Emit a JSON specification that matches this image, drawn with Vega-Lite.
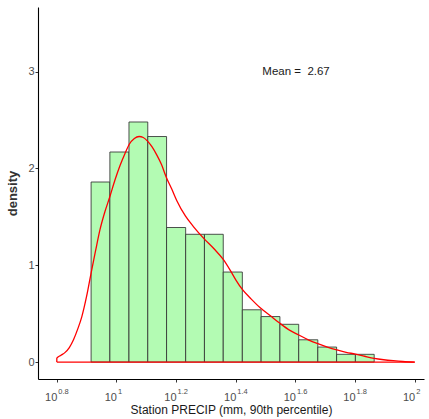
{
  "$schema": "https://vega.github.io/schema/vega-lite/v6.json",
  "width": 386,
  "height": 372,
  "autosize": "none",
  "padding": {"left": 38, "top": 7, "right": 5, "bottom": 40},
  "background": "white",
  "config": {
    "view": {"stroke": null},
    "font": "Liberation Sans",
    "axis": {
      "grid": false,
      "domainColor": "#000000",
      "domainWidth": 1.1,
      "tickColor": "#333333",
      "tickSize": 3,
      "labelColor": "#4d4d4d",
      "labelFontSize": 11,
      "labelFont": "Liberation Sans",
      "titleColor": "#1a1a1a",
      "titleFont": "Liberation Sans"
    }
  },
  "datasets": {
    "bins": [
      {"bin_start": 0.915, "bin_end": 0.978, "density": 1.86},
      {"bin_start": 0.978, "bin_end": 1.042, "density": 2.17},
      {"bin_start": 1.042, "bin_end": 1.105, "density": 2.48},
      {"bin_start": 1.105, "bin_end": 1.168, "density": 2.33},
      {"bin_start": 1.168, "bin_end": 1.232, "density": 1.39},
      {"bin_start": 1.232, "bin_end": 1.295, "density": 1.32},
      {"bin_start": 1.295, "bin_end": 1.358, "density": 1.32},
      {"bin_start": 1.358, "bin_end": 1.422, "density": 0.93},
      {"bin_start": 1.422, "bin_end": 1.485, "density": 0.54},
      {"bin_start": 1.485, "bin_end": 1.548, "density": 0.47},
      {"bin_start": 1.548, "bin_end": 1.611, "density": 0.39},
      {"bin_start": 1.611, "bin_end": 1.675, "density": 0.23},
      {"bin_start": 1.675, "bin_end": 1.738, "density": 0.155},
      {"bin_start": 1.738, "bin_end": 1.801, "density": 0.08},
      {"bin_start": 1.801, "bin_end": 1.864, "density": 0.08}
    ],
    "curve": [
      {"log10_precip": 0.8, "density": 0.0},
      {"log10_precip": 0.8001, "density": 0.04},
      {"log10_precip": 0.814, "density": 0.07},
      {"log10_precip": 0.828, "density": 0.1},
      {"log10_precip": 0.842, "density": 0.15},
      {"log10_precip": 0.856, "density": 0.23},
      {"log10_precip": 0.87, "density": 0.34},
      {"log10_precip": 0.884, "density": 0.47},
      {"log10_precip": 0.9, "density": 0.68},
      {"log10_precip": 0.915, "density": 0.92},
      {"log10_precip": 0.93, "density": 1.15},
      {"log10_precip": 0.945, "density": 1.37},
      {"log10_precip": 0.961, "density": 1.55},
      {"log10_precip": 0.978, "density": 1.71},
      {"log10_precip": 0.995, "density": 1.88},
      {"log10_precip": 1.012, "density": 2.03},
      {"log10_precip": 1.028, "density": 2.15},
      {"log10_precip": 1.043, "density": 2.25},
      {"log10_precip": 1.06, "density": 2.31},
      {"log10_precip": 1.076, "density": 2.33},
      {"log10_precip": 1.09, "density": 2.32},
      {"log10_precip": 1.105, "density": 2.28},
      {"log10_precip": 1.12, "density": 2.22},
      {"log10_precip": 1.135, "density": 2.14},
      {"log10_precip": 1.151, "density": 2.04},
      {"log10_precip": 1.167, "density": 1.91},
      {"log10_precip": 1.185, "density": 1.79},
      {"log10_precip": 1.202, "density": 1.67},
      {"log10_precip": 1.231, "density": 1.51},
      {"log10_precip": 1.258, "density": 1.4},
      {"log10_precip": 1.295, "density": 1.27},
      {"log10_precip": 1.327, "density": 1.17},
      {"log10_precip": 1.358, "density": 1.06},
      {"log10_precip": 1.381, "density": 0.95},
      {"log10_precip": 1.4, "density": 0.85},
      {"log10_precip": 1.422, "density": 0.75},
      {"log10_precip": 1.452, "density": 0.65},
      {"log10_precip": 1.482, "density": 0.56},
      {"log10_precip": 1.515, "density": 0.48},
      {"log10_precip": 1.548, "density": 0.4},
      {"log10_precip": 1.58, "density": 0.33},
      {"log10_precip": 1.611, "density": 0.28},
      {"log10_precip": 1.643, "density": 0.23},
      {"log10_precip": 1.675, "density": 0.19},
      {"log10_precip": 1.707, "density": 0.155},
      {"log10_precip": 1.739, "density": 0.125},
      {"log10_precip": 1.77, "density": 0.1},
      {"log10_precip": 1.801, "density": 0.083},
      {"log10_precip": 1.832, "density": 0.06},
      {"log10_precip": 1.864, "density": 0.038},
      {"log10_precip": 1.896, "density": 0.024},
      {"log10_precip": 1.928, "density": 0.014},
      {"log10_precip": 1.96, "density": 0.006},
      {"log10_precip": 2.0, "density": 0.0}
    ],
    "ticks": [
      {"tick": 0.8, "exponent": "0.8"},
      {"tick": 1.0, "exponent": "1"},
      {"tick": 1.2, "exponent": "1.2"},
      {"tick": 1.4, "exponent": "1.4"},
      {"tick": 1.6, "exponent": "1.6"},
      {"tick": 1.8, "exponent": "1.8"},
      {"tick": 2.0, "exponent": "2"}
    ]
  },
  "layer": [
    {
      "data": {"name": "bins"},
      "mark": {"type": "rect", "fill": "#b3fbb3", "stroke": "#333333", "strokeOpacity": 0.85, "strokeWidth": 1},
      "encoding": {
        "x": {
          "field": "bin_start", "type": "quantitative",
          "scale": {"domain": [0.737, 2.031], "nice": false, "zero": false},
          "axis": {
            "values": [0.8, 1, 1.2, 1.4, 1.6, 1.8, 2],
            "labelExpr": "'10'",
            "labelAlign": "right",
            "labelDx": 1.5,
            "labelPadding": 9,
            "title": "Station PRECIP (mm, 90th percentile)",
            "titleFontSize": 12,
            "titleFontWeight": "normal",
            "titlePadding": 2
          }
        },
        "x2": {"field": "bin_end"},
        "y": {
          "field": "density", "type": "quantitative",
          "scale": {"domain": [-0.175, 3.668], "nice": false, "zero": false},
          "axis": {
            "values": [0, 1, 2, 3],
            "format": "d",
            "labelPadding": 1,
            "title": "density",
            "titleFontWeight": "bold",
            "titleFontSize": 13,
            "titleColor": "#333333",
            "titlePadding": 8
          }
        },
        "y2": {"datum": 0}
      }
    },
    {
      "data": {"name": "curve"},
      "mark": {"type": "line", "color": "#ff0000", "strokeWidth": 1.3, "interpolate": "monotone"},
      "encoding": {
        "x": {"field": "log10_precip", "type": "quantitative"},
        "y": {"field": "density", "type": "quantitative"}
      }
    },
    {
      "data": {"values": [{}]},
      "mark": {"type": "rule", "color": "#ff0000", "strokeWidth": 1.3},
      "encoding": {
        "x": {"datum": 0.8, "type": "quantitative"},
        "x2": {"datum": 2.0},
        "y": {"datum": 0, "type": "quantitative"}
      }
    },
    {
      "data": {"name": "ticks"},
      "mark": {"type": "text", "align": "left", "baseline": "top", "fontSize": 7.5, "color": "#4d4d4d", "dx": 1.5, "dy": 8.5, "font": "Liberation Sans"},
      "encoding": {
        "x": {"field": "tick", "type": "quantitative"},
        "y": {"datum": -0.175, "type": "quantitative"},
        "text": {"field": "exponent"}
      }
    },
    {
      "data": {"values": [{}]},
      "mark": {"type": "text", "align": "center", "baseline": "middle", "fontSize": 11.5, "color": "#1a1a1a", "font": "Liberation Sans"},
      "encoding": {
        "x": {"datum": 1.602, "type": "quantitative"},
        "y": {"datum": 3.0, "type": "quantitative"},
        "text": {"value": "Mean = \u00a02.67"}
      }
    }
  ]
}
